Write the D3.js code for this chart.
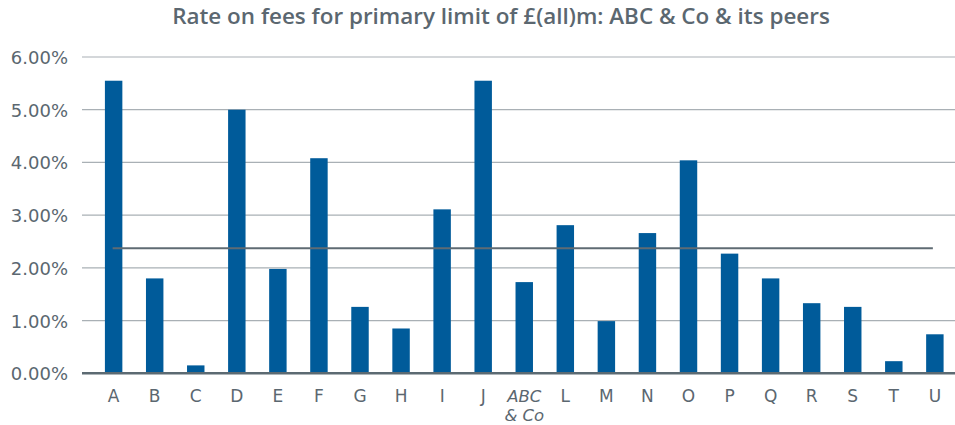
<!DOCTYPE html>
<html><head><meta charset="utf-8">
<script src="https://cdn.jsdelivr.net/npm/d3@7"></script>
<style>
html,body{margin:0;padding:0;background:#fff;}
svg{display:block;}
</style></head>
<body>
<svg id="chart" width="955" height="425"></svg>
<script>
const title = "Rate on fees for primary limit of £(all)m: ABC & Co & its peers";
const categories = ["A","B","C","D","E","F","G","H","I","J","ABC & Co","L","M","N","O","P","Q","R","S","T","U"];
const rates = [5.55,1.80,0.15,5.00,1.98,4.08,1.26,0.85,3.11,5.55,1.73,2.81,0.99,2.66,4.04,2.27,1.80,1.33,1.26,0.23,0.74];
const average = 2.37;
const yTicks = [0,1,2,3,4,5,6];

(function(){
const svg = d3.select("#chart");
const textColor = "#5b6770";
const plotLeft = 82, plotRight = 955, plotTop = 57, plotBottom = 373.3;

const x = d3.scaleBand().domain(categories).range([93, 955.5]).paddingInner(0.575).paddingOuter(0.29);
const y = d3.scaleLinear().domain([0,6]).range([plotBottom, plotTop]);

// title
const t = svg.append("text").attr("x", 501).attr("y", 24).attr("text-anchor","middle")
  .style("font-family","'Open Sans'").style("font-weight",600).style("font-size","19px")
  .attr("fill", textColor).text(title);
const w = t.node().getComputedTextLength();
t.style("font-size", (19*658/w).toFixed(2)+"px");

// gridlines
svg.append("g").selectAll("line").data(yTicks.filter(d=>d>0)).join("line")
  .attr("x1", plotLeft).attr("x2", plotRight).attr("y1", d=>y(d)).attr("y2", d=>y(d))
  .attr("stroke","#a9b0b5").attr("stroke-width",1.2);

// y axis labels
const yAxis = d3.axisLeft(y).tickValues(yTicks).tickSize(0).tickPadding(0).tickFormat(d=>d.toFixed(2)+"%");
const ya = svg.append("g").attr("transform","translate(68,0)").call(yAxis);
ya.select(".domain").remove();
ya.selectAll("text").attr("fill",textColor).style("font-family","'DejaVu Sans'").style("font-size","18px").attr("dy","0.36em");

// bars
svg.append("g").selectAll("rect").data(categories).join("rect")
  .attr("x", d=>x(d)).attr("width", x.bandwidth())
  .attr("y", (d,i)=>y(rates[i])).attr("height",(d,i)=>y(0)-y(rates[i]))
  .attr("fill","#005b9a");

// average line
svg.append("line")
  .attr("x1", x(categories[0]) + x.bandwidth()/2 - 1)
  .attr("x2", x(categories[categories.length-1]) + x.bandwidth()/2 - 2)
  .attr("y1", y(average)).attr("y2", y(average))
  .attr("stroke","#5f6b73").attr("stroke-width",2);

// x axis
const xAxis = d3.axisBottom(x).tickSize(0).tickPadding(0).tickFormat("");
const xa = svg.append("g").attr("transform",`translate(0,${y(0)})`).call(xAxis);
xa.select(".domain").remove();
svg.append("line").attr("x1",plotLeft).attr("x2",plotRight).attr("y1",y(0)).attr("y2",y(0))
  .attr("stroke","#5c6a72").attr("stroke-width",2.5);

xa.selectAll(".tick").each(function(d){
  const g = d3.select(this);
  const lines = d === "ABC & Co" ? ["ABC","& Co"] : [d];
  lines.forEach((p,i)=>{
    g.append("text").attr("text-anchor","middle").attr("fill",textColor)
      .style("font-family","'DejaVu Sans'").style("font-size", lines.length>1 ? "16.5px" : "17px")
      .style("font-style", lines.length>1 ? "italic" : "normal")
      .attr("y", 28.5 + i*19.5).text(p);
  });
});
})();
</script>
</body></html>
